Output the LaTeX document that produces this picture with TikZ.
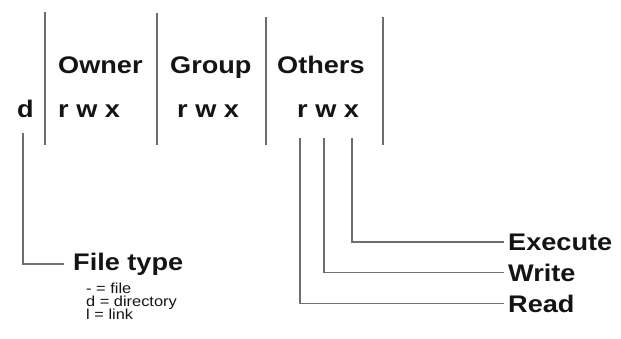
\documentclass[tikz,border=0pt]{standalone}
\usepackage{fontspec}
\setmainfont{Liberation Sans}[FakeStretch=1.13]
\definecolor{rulegray}{RGB}{110,110,110}
\definecolor{ink}{RGB}{20,20,20}
\begin{document}
\begin{tikzpicture}[x=1pt,y=-1pt,
  big/.style={font=\bfseries\fontsize{24}{24}\selectfont, inner sep=0pt, anchor=base west, text=ink},
  small/.style={font=\fontsize{14.5}{15}\selectfont, inner sep=0pt, anchor=base west, text=ink},
  rule/.style={draw=rulegray, line width=1.5pt}]
\useasboundingbox (0,0) rectangle (621,338);
% header and permission texts
\node[big] (owner)  at (58,73)  {Owner};
\node[big] (group)  at (170,73) {Group};
\node[big] (others) at (277,73) {Others};
\node[big] (dchar)  at (17,117) {d};
\node[big] (rwxo)   at (58,117) {r w x};
\node[big] (rwxg)   at (177,117) {r w x};
\node[big] (rwxh)   at (297,117) {r w x};
% separators
\coordinate (s1t) at (45,12);  \coordinate (s1b) at (45,145);
\coordinate (s2t) at (157,13); \coordinate (s2b) at (157,145);
\coordinate (s3t) at (266,17); \coordinate (s3b) at (266,145);
\coordinate (s4t) at (383,17); \coordinate (s4b) at (383,145);
\draw[rule] (s1t) -- (s1b);
\draw[rule] (s2t) -- (s2b);
\draw[rule] (s3t) -- (s3b);
\draw[rule] (s4t) -- (s4b);
% labels
\node[big] (filetype) at (73,270) {File type};
\node[small] (lg1) at (86,293) {- = file};
\node[small] (lg2) at (86,306) {d = directory};
\node[small] (lg3) at (86,319) {l = link};
\node[big] (execute) at (508,250) {Execute};
\node[big] (write)   at (508,281) {Write};
\node[big] (read)    at (508,312) {Read};
% connectors
\coordinate (ftop) at (23,133);
\coordinate (rtop) at (300,138);
\coordinate (wtop) at (324,138);
\coordinate (xtop) at (352,138);
\draw[rule] (ftop) |- ([xshift=-9pt]filetype.west);
\draw[rule] (xtop) |- ([xshift=-4pt]execute.west);
\draw[rule] (wtop) |- ([xshift=-4pt]write.west);
\draw[rule] (rtop) |- ([xshift=-4pt]read.west);
\end{tikzpicture}
\end{document}
